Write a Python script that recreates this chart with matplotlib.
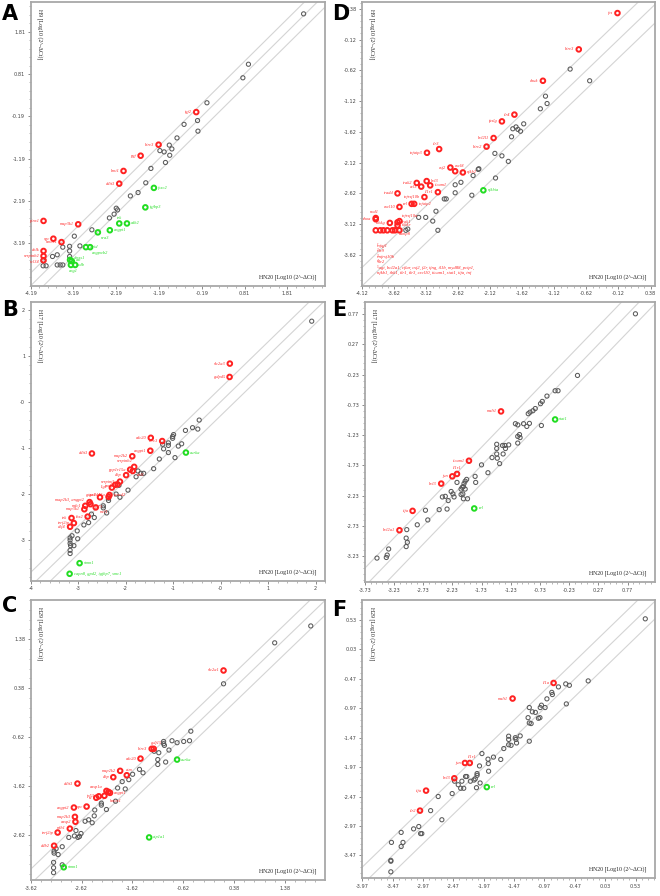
import matplotlib
matplotlib.use("Agg")
import matplotlib.pyplot as plt
from matplotlib.ticker import AutoMinorLocator, FixedLocator, FixedFormatter
import numpy as np

# ---------------- DATA ----------------
# Panel A : H9 vs HN20
A_gray_x = [2.19, 0.90, 0.77, -0.07, -0.605, -0.29, -0.28, -0.77, -0.95, -1.17, -1.07, -0.89, -0.94, -1.04,
            -1.38, -1.50, -1.68, -1.86, -2.19, -2.16, -2.24, -2.35, -2.76, -3.17, -3.04, -3.44, -3.28, -3.28,
            -3.57, -3.68, -3.28, -3.90, -3.83, -3.57, -3.50, -3.44, -3.90]
A_gray_y = [2.23, 1.04, 0.72, 0.13, -0.38, -0.29, -0.54, -0.70, -0.87, -1.00, -1.03, -0.96, -1.11, -1.28,
            -1.42, -1.76, -1.99, -2.07, -2.36, -2.40, -2.50, -2.59, -2.87, -3.02, -3.25, -3.28, -3.26, -3.37,
            -3.46, -3.50, -3.50, -3.72, -3.72, -3.70, -3.70, -3.70, -3.60]
A_up_x = [-0.32, -1.20, -1.62, -2.02, -2.12, -3.89, -3.08, -3.66, -3.47, -3.89, -3.89, -3.89]
A_up_y = [-0.09, -0.86, -1.12, -1.48, -1.78, -2.66, -2.74, -3.08, -3.16, -3.37, -3.49, -3.59]
A_up_names = ["igf2", "birc3", "pgf", "bmi1", "ddit3", "pinx1", "map3k1", "xpc", "hmox1", "dnlk",
              "serpinb2", "vcl34"]
A_dn_x = [-1.31, -1.51, -2.12, -1.94, -2.34, -2.62, -2.90, -2.80, -3.27, -3.23, -3.25, -3.15]
A_dn_y = [-1.88, -2.34, -2.72, -2.72, -2.88, -2.93, -3.28, -3.28, -3.58, -3.61, -3.70, -3.70]
A_dn_names = ["foxc2", "igfbp3", "tek", "cdh2", "angpt1", "nra3", "grid", "angpwb2", "dmxs1", "cat",
              "padb", "ang1"]

# Panel B : H17 vs HN20
B_gray_x = [1.92, -0.45, -0.74, -0.59, -0.48, -0.99, -1.01, -1.01, -1.22, -1.10, -1.10, -0.82, -0.89, -1.10,
            -0.96, -1.20, -1.29, -1.41, -1.62, -1.68, -1.74, -1.78, -1.95, -2.14, -2.20, -2.12, -2.36, -2.36,
            -2.47, -2.47, -2.40, -2.78, -2.88, -2.66, -2.72, -3.02, -3.01, -3.13, -3.17, -3.17, -3.17, -3.16,
            -3.09, -3.17, -3.17]
B_gray_y = [1.75, -0.395, -0.62, -0.56, -0.59, -0.71, -0.75, -0.79, -0.92, -0.89, -0.945, -0.91, -0.96, -1.10,
            -1.21, -1.02, -1.24, -1.45, -1.55, -1.55, -1.50, -1.625, -1.915, -1.81, -2.00, -2.07, -2.09, -2.14,
            -2.255, -2.30, -2.41, -2.62, -2.67, -2.51, -2.435, -2.80, -2.97, -2.905, -2.95, -3.00, -3.07, -3.12,
            -3.12, -3.22, -3.29]
B_up_x = [0.195, 0.19, -1.47, -1.23, -1.48, -2.71, -1.86, -1.82, -1.905, -1.99, -1.85, -2.12, -2.17, -2.22,
          -2.29, -2.34, -2.36, -2.54, -2.76, -2.74, -2.85, -2.87, -2.63, -2.80, -3.14, -3.09, -3.17]
B_up_y = [0.83, 0.54, -0.78, -0.85, -1.06, -1.12, -1.18, -1.41, -1.47, -1.59, -1.50, -1.73, -1.79, -1.80,
          -1.86, -2.02, -2.06, -2.07, -2.175, -2.22, -2.255, -2.33, -2.29, -2.49, -2.52, -2.63, -2.71]
B_up_names = ["slc2a3", "gdpd5", "cdc20", "birc3", "angpt1", "ddit3", "map2k2", "serpinb2", "ppp1r15a",
              "dhp", "abl1", "serpinf1", "txnip", "", "lig1", "fancd2", "gadd45a", "gtse1", "map2k3, angpt2",
              "tp73", "mdc1", "map3k1", "mcl1", "tbx2", "tek", "terf2ip", "e2f4"]
B_dn_x = [-0.73, -2.97, -3.18]
B_dn_y = [-1.10, -3.50, -3.73]
B_dn_names = ["aurka", "stmn1", "capn8, gpd2, igfbp7, smc1"]

# Panel C : H29 vs HN20
C_gray_x = [1.89, 1.18, 0.174, -0.47, -0.495, -0.61, -0.74, -0.84, -1.005, -1.005, -0.99, -1.10, -0.90, -1.12,
            -1.12, -0.965, -1.19, -1.41, -1.48, -1.615, -1.69, -1.82, -1.91, -1.76, -1.95, -2.13, -2.23, -2.23,
            -2.36, -2.37, -2.48, -2.41, -2.55, -2.63, -2.66, -2.69, -2.76, -2.73, -2.87, -3.00, -3.12, -3.08,
            -3.16, -3.16, -3.17, -3.17, -3.17, -3.00]
C_gray_y = [1.65, 1.305, 0.468, -0.50, -0.695, -0.71, -0.735, -0.695, -0.71, -0.756, -0.79, -0.94, -0.885,
            -1.08, -1.18, -1.13, -0.91, -1.35, -1.28, -1.38, -1.49, -1.53, -1.66, -1.68, -1.93, -2.10, -1.97,
            -2.01, -2.11, -2.23, -2.31, -2.37, -2.34, -2.59, -2.65, -2.67, -2.64, -2.53, -2.67, -2.86, -2.90,
            -3.02, -2.95, -2.99, -3.18, -3.29, -3.39, -3.23]
C_up_x = [0.174, -1.24, -1.20, -1.46, -1.86, -1.73, -1.995, -2.70, -2.13, -2.09, -2.06, -2.17, -2.28, -2.33,
          -2.52, -2.77, -2.75, -2.74, -2.85, -3.09, -3.16]
C_up_y = [0.74, -0.86, -0.86, -1.06, -1.31, -1.40, -1.44, -1.57, -1.72, -1.74, -1.76, -1.82, -1.83, -1.86,
          -2.04, -2.06, -2.25, -2.35, -2.49, -2.57, -2.84]
C_up_names = ["slc2a1", "birc3", "gdf15", "cdc20", "map2k2", "atm", "dhp", "ddit3", "casp1a", "", "angpt1",
              "hmox1", "tp53", "ia", "xpc", "angpt2", "map2k3", "casp2", "mlh1", "terf2ip", "ddb2"]
C_dn_x = [-0.74, -1.29, -2.97]
C_dn_y = [-1.08, -2.67, -3.28]
C_dn_names = ["aurka", "atp1a1", "stmn1"]

# Panel D : H9 vs HN20 (NFkB)
D_gray_x = [-0.875, -0.57, -1.26, -1.235, -1.34, -1.60, -1.72, -1.77, -1.69, -1.65, -1.79, -2.05, -1.94, -1.84,
            -2.30, -2.31, -2.39, -2.04, -2.58, -2.67, -2.67, -2.41, -2.84, -2.81, -2.97, -3.02, -3.24, -3.13,
            -2.94, -3.41, -3.44]
D_gray_y = [-0.60, -0.79, -1.04, -1.16, -1.245, -1.49, -1.54, -1.57, -1.58, -1.61, -1.70, -1.97, -2.01, -2.10,
            -2.22, -2.23, -2.33, -2.37, -2.44, -2.48, -2.61, -2.65, -2.71, -2.71, -2.91, -3.07, -3.01, -3.01,
            -3.22, -3.20, -3.22]
D_up_x = [-0.136, -0.74, -1.30, -1.745, -1.94, -2.07, -2.18, -2.92, -3.11, -2.745, -2.67, -2.55, -3.27, -3.115,
          -3.20, -3.06, -2.94, -3.57, -3.15, -3.35, -3.31, -3.54, -3.91, -3.91, -3.54, -3.57, -3.69, -3.57,
          -3.91, -3.84, -3.79, -3.73, -3.65, -3.61, -3.54]
D_up_y = [0.31, -0.28, -0.79, -1.34, -1.45, -1.72, -1.86, -1.90, -1.96, -2.20, -2.26, -2.28, -2.45, -2.42,
          -2.51, -2.49, -2.60, -2.62, -2.68, -2.79, -2.79, -2.84, -3.02, -3.04, -3.07, -3.09, -3.10, -3.14,
          -3.22, -3.22, -3.22, -3.22, -3.22, -3.22, -3.22]
D_up_names = ["fos", "birc3", "chuk", "tlr4", "faslg", "bcl2l1", "birc2", "tlr3", "tnfaip3", "csf2", "cxcl8",
              "nfkb2", "irak2", "bcl3", "ccl3", "ticam1", "il1r1", "tradd", "tnfrsf10b", "rel", "tnfaip2",
              "cxcl10", "nod1", "rhoa", "tnfrsf10a", "irak1", "ikbkg", "ikbke", "", "", "", "", "", "camp8", ""]
D_dn_x = [-2.23]
D_dn_y = [-2.57]
D_dn_names = ["nfkbia"]
D_note = ["\u00b9nfqf1", "\u00b2tlr9", "\u00b3tnfrsf10b", "\u2074tlr2",
          "\u2075agt, bcl2a1, cflar, csf2, f2r, ifng, il1b, myd88, pcip1,",
          "nfkb1, tbk1, tlr1, tlr3, cxcl10, ticam1, stat1, tifa, tnf"]

# Panel E : H17 vs HN20 (NFkB)
E_gray_x = [0.905, -0.087, -0.47, -0.42, -0.61, -0.69, -0.72, -0.81, -0.85, -0.90, -0.93, -1.15, -1.11, -1.01,
            -0.91, -0.955, -0.705, -1.08, -1.11, -1.07, -1.11, -1.265, -1.33, -1.37, -1.32, -1.47, -1.47, -1.47,
            -1.36, -1.46, -1.55, -1.42, -1.62, -1.73, -1.84, -1.83, -1.985, -2.01, -2.03, -2.15, -2.04, -2.06,
            -2.08, -2.01, -2.05, -2.08, -2.25, -2.22, -2.20, -2.35, -2.40, -2.30, -2.04, -1.97, -2.455, -2.32,
            -2.69, -2.65, -2.83, -3.01, -3.02, -3.00, -3.02, -3.32, -3.345, -3.36, -3.52]
E_gray_y = [0.775, -0.243, -0.496, -0.496, -0.584, -0.672, -0.71, -0.79, -0.826, -0.85, -0.875, -1.04, -1.06,
            -1.04, -1.035, -1.085, -1.07, -1.22, -1.25, -1.27, -1.36, -1.39, -1.40, -1.40, -1.45, -1.38, -1.45,
            -1.54, -1.54, -1.61, -1.60, -1.70, -1.85, -1.72, -1.91, -2.01, -1.96, -1.99, -2.03, -2.01, -2.08,
            -2.09, -2.12, -2.12, -2.20, -2.21, -2.16, -2.20, -2.25, -2.24, -2.25, -2.31, -2.28, -2.28, -2.46,
            -2.45, -2.47, -2.63, -2.71, -2.79, -2.93, -3.00, -3.07, -3.11, -3.21, -3.25, -3.26]
E_up_x = [-1.396, -1.945, -2.15, -2.23, -2.42, -2.91, -3.135]
E_up_y = [-0.837, -1.652, -1.87, -1.91, -2.03, -2.48, -2.80]
E_up_names = ["malt1", "ticam1", "il1r1", "jun", "bcl3", "tifa", "bcl2a1"]
E_dn_x = [-0.47, -1.855]
E_dn_y = [-0.97, -2.44]
E_dn_names = ["stat1", "rel"]

# Panel F : H29 vs HN20 (NFkB)
F_gray_x = [0.69, -0.25, -0.62, -0.56, -0.74, -0.85, -0.84, -0.93, -0.61, -1.02, -0.96, -1.04, -1.22, -1.17,
            -1.12, -1.045, -1.07, -1.24, -1.22, -1.19, -1.37, -1.45, -1.44, -1.56, -1.56, -1.56, -1.52, -1.43,
            -1.22, -1.64, -1.69, -1.81, -1.90, -2.00, -2.04, -1.895, -1.89, -2.08, -2.08, -2.11, -2.13, -2.19,
            -2.25, -2.27, -2.33, -2.39, -2.35, -2.30, -2.09, -2.03, -2.45, -2.49, -2.72, -2.845, -2.66, -3.125,
            -3.04, -2.99, -3.01, -3.33, -3.30, -3.33, -3.49, -3.50, -3.50, -3.50]
F_gray_y = [0.55, -0.505, -0.556, -0.58, -0.607, -0.70, -0.737, -0.81, -0.896, -0.918, -0.958, -0.958, -0.958,
            -1.03, -1.04, -1.13, -1.14, -1.13, -1.22, -1.23, -1.44, -1.47, -1.50, -1.445, -1.50, -1.59, -1.60,
            -1.56, -1.53, -1.655, -1.84, -1.80, -1.835, -1.74, -1.95, -1.91, -2.04, -2.08, -2.11, -2.17, -2.19,
            -2.21, -2.13, -2.13, -2.21, -2.27, -2.33, -2.33, -2.32, -2.24, -2.21, -2.42, -2.47, -2.71, -2.865,
            -3.02, -2.98, -3.10, -3.10, -3.08, -3.25, -3.32, -3.25, -3.555, -3.57, -3.75]
F_up_x = [-0.82, -1.495, -2.28, -2.20, -2.455, -2.92, -3.02]
F_up_y = [-0.54, -0.805, -1.90, -1.90, -2.16, -2.37, -2.71]
F_up_names = ["il1a", "malt1", "jun", "il1r1", "bcl3", "tifa", "tlr2"]
F_dn_x = [-1.92]
F_dn_y = [-2.31]
F_dn_names = ["rel"]

# tick values / labels
A_ticks = [-4.19, -3.19, -2.19, -1.19, -0.19, 0.81, 1.81]
B_ticks = [-4, -3, -2, -1, 0, 1, 2]
B_tick_labels = ["-4", "-3", "-2", "-1", "-0", "1", "2"]
C_ticks = [-3.62, -2.62, -1.62, -0.62, 0.38, 1.38]
D_ticks = [-4.12, -3.62, -3.12, -2.62, -2.12, -1.62, -1.12, -0.62, -0.12, 0.38]
E_ticks = [-3.73, -3.23, -2.73, -2.23, -1.73, -1.23, -0.73, -0.23, 0.27, 0.77]
F_ticks = [-3.97, -3.47, -2.97, -2.47, -1.97, -1.47, -0.97, -0.47, 0.03, 0.53]

# ---------------- STYLE / LAYOUT ----------------
W, H = 660, 896
fig = plt.figure(figsize=(W / 100, H / 100), dpi=100)
GRAY = "#5a5a5a"
RED = "#ff2222"
GREEN = "#22dd22"
LINE = "#d4d4d4"
FOLD = np.log10(2)
LFS = 3.2


def axes_px(l, t, r, b):
    return fig.add_axes([l / W, 1 - b / H, (r - l) / W, (b - t) / H])


def fmt(v):
    return f"{v:.2f}"


def panel(ax, gx, gy, ux, uy, un, dx, dy, dn, xlim, ylim, xt, yt, xtl, ytl, ylab, offsets):
    ax.set_xlim(*xlim)
    ax.set_ylim(*ylim)
    for off in (0, FOLD, -FOLD):
        ax.axline((0, off), slope=1, color=LINE, lw=0.8, zorder=1)
    ax.scatter(gx, gy, s=9, facecolors="none", edgecolors=GRAY, linewidths=0.75, zorder=3)
    ax.scatter(ux, uy, s=11, facecolors="none", edgecolors=RED, linewidths=1.4, zorder=4)
    ax.scatter(dx, dy, s=11, facecolors="none", edgecolors=GREEN, linewidths=1.4, zorder=4)
    for x, y, n in zip(ux, uy, un):
        if not n:
            continue
        ox, oy, ha = offsets.get(n, (-3, 0, "right"))
        ax.annotate(n, (x, y), xytext=(ox, oy), textcoords="offset points", ha=ha, va="center",
                    fontsize=LFS, color=RED, style="italic", family="Liberation Serif", zorder=5)
    for x, y, n in zip(dx, dy, dn):
        if not n:
            continue
        ox, oy, ha = offsets.get(n, (3, 0, "left"))
        ax.annotate(n, (x, y), xytext=(ox, oy), textcoords="offset points", ha=ha, va="center",
                    fontsize=LFS, color=GREEN, style="italic", family="Liberation Serif", zorder=5)
    ax.xaxis.set_major_locator(FixedLocator(xt))
    ax.xaxis.set_major_formatter(FixedFormatter(xtl))
    ax.yaxis.set_major_locator(FixedLocator(yt))
    ax.yaxis.set_major_formatter(FixedFormatter(ytl))
    ax.xaxis.set_minor_locator(AutoMinorLocator(5))
    ax.yaxis.set_minor_locator(AutoMinorLocator(5))
    ax.tick_params(which="major", length=2.5, width=0.6, color="#777777", labelsize=3.6, pad=1.5,
                   labelcolor="#444444")
    ax.tick_params(which="minor", length=1.4, width=0.5, color="#999999")
    for s in ax.spines.values():
        s.set_color("#a8a8a8")
        s.set_linewidth(1.3)
    ax.text(0.032, 0.975, ylab + " [Log10 (2^-\u0394Ct)]", transform=ax.transAxes, rotation=270,
            ha="center", va="top", fontsize=4.2, family="Liberation Serif", color="#222222")
    ax.text(0.972, 0.032, "HN20 [Log10 (2^-\u0394Ct)]", transform=ax.transAxes,
            ha="right", va="center", fontsize=4.2, family="Liberation Serif", color="#222222")


offA = {"tek": (0, 4, "center"), "nra3": (2, -4, "left"), "angpwb2": (1, -4, "left"),
        "ang1": (-1, -4, "center"), "padb": (3, 0, "left"), "cat": (3, 0.5, "left"),
        "dmxs1": (3, 1.5, "left"), "dnlk": (-3, 1, "right"), "vcl34": (-3, -1, "right")}
offB = {"serpinb2": (-1, 4, "right"), "abl1": (3, -3, "left"), "txnip": (-3, -1, "right"),
        "fancd2": (3, 0, "left"), "tp73": (3, -2, "left"), "mcl1": (3, -3, "left"),
        "map2k3, angpt2": (-4, 1.5, "right"), "mdc1": (-3, -0.5, "right"), "gtse1": (-3, 1.5, "right"),
        "lig1": (-3, 0.5, "right"), "gadd45a": (-3, 1, "right")}
offC = {"gdf15": (2, 4, "center"), "atm": (2, 4, "center"), "casp1a": (-3, 3, "right"),
        "angpt1": (3, 0, "left"), "hmox1": (4, -4, "left"), "mlh1": (-3, 0.5, "right"),
        "terf2ip": (-3, -0.5, "right")}
offD = {"tlr3": (-2, 4, "center"), "cxcl8": (3, 4, "center"), "nfkb2": (3, 0, "left"),
        "bcl3": (3, 0, "left"), "ticam1": (3, 0, "left"), "tnfaip2": (3, 0, "left"),
        "nod1": (-1, 4, "center"), "tnfrsf10a": (2, 4, "left"), "irak1": (3, 0, "left"),
        "ikbke": (3, 0, "left"), "camp8": (3, -3, "left")}
offE = {"il1r1": (0, 4, "center")}
offF = {"il1r1": (2, 4, "center")}

axA = axes_px(30.7, 2, 325, 285.7)
panel(axA, A_gray_x, A_gray_y, A_up_x, A_up_y, A_up_names, A_dn_x, A_dn_y, A_dn_names,
      (-4.19, 2.69), (-4.19, 2.51), A_ticks, A_ticks[1:], [fmt(v) for v in A_ticks],
      [fmt(v) for v in A_ticks[1:]], "H9", offA)

axB = axes_px(30.7, 302.3, 325, 580.7)
panel(axB, B_gray_x, B_gray_y, B_up_x, B_up_y, B_up_names, B_dn_x, B_dn_y, B_dn_names,
      (-4.0, 2.2), (-3.88, 2.16), B_ticks, B_ticks[1:], B_tick_labels, B_tick_labels[1:], "H17", offB)

axC = axes_px(30.7, 600, 325, 880)
panel(axC, C_gray_x, C_gray_y, C_up_x, C_up_y, C_up_names, C_dn_x, C_dn_y, C_dn_names,
      (-3.62, 2.17), (-3.54, 2.18), C_ticks, C_ticks[1:], [fmt(v) for v in C_ticks],
      [fmt(v) for v in C_ticks[1:]], "H29", offC)

axD = axes_px(362.3, 2, 655, 285.7)
panel(axD, D_gray_x, D_gray_y, D_up_x, D_up_y, D_up_names, D_dn_x, D_dn_y, D_dn_names,
      (-4.12, 0.45), (-4.12, 0.49), D_ticks, D_ticks[1:], [fmt(v) for v in D_ticks],
      [fmt(v) for v in D_ticks[1:]], "H9", offD)
axD.text(0.049, 0.15, "\n".join(D_note), transform=axD.transAxes, ha="left", va="top",
         fontsize=3.3, color=RED, style="italic", family="Liberation Serif", linespacing=1.25)

axE = axes_px(364.7, 302, 655, 582)
panel(axE, E_gray_x, E_gray_y, E_up_x, E_up_y, E_up_names, E_dn_x, E_dn_y, E_dn_names,
      (-3.73, 1.24), (-3.655, 0.97), E_ticks, E_ticks[1:], [fmt(v) for v in E_ticks],
      [fmt(v) for v in E_ticks[1:]], "H17", offE)

axF = axes_px(362.3, 600, 655, 878)
panel(axF, F_gray_x, F_gray_y, F_up_x, F_up_y, F_up_names, F_dn_x, F_dn_y, F_dn_names,
      (-3.97, 0.85), (-3.855, 0.87), F_ticks, F_ticks[1:], [fmt(v) for v in F_ticks],
      [fmt(v) for v in F_ticks[1:]], "H29", offF)

for letter, (px, py) in {"A": (2, 4), "B": (2, 300), "C": (2, 596), "D": (332, 4), "E": (332, 300),
                         "F": (332, 600)}.items():
    fig.text(px / W, 1 - py / H, letter, fontsize=15, fontweight="bold", ha="left", va="top",
             family="DejaVu Sans")

fig.savefig("out.png", dpi=100)
